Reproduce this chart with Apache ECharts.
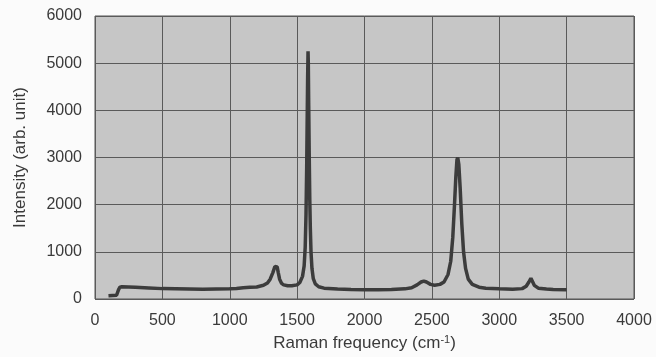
<!DOCTYPE html>
<html>
<head>
<meta charset="utf-8">
<script src="https://cdn.jsdelivr.net/npm/echarts@6/dist/echarts.min.js"></script>
<style>
html,body{margin:0;padding:0;background:#fbfbfb;}
#chart{width:656px;height:357px;}
</style>
</head>
<body>
<div id="chart"></div>
<script>
// Raman shift (cm-1) and intensity (arb. unit)
const ramanShift = [100,130,160,168,175,185,200,250,300,400,500,600,700,800,900,1000,1050,1100,1150,1200,1250,1280,1300,1320,1335,1345,1352,1360,1370,1385,1400,1430,1460,1500,1520,1540,1552,1560,1566,1571,1575,1578,1581,1583,1586,1590,1594,1598,1603,1610,1620,1635,1660,1700,1800,1900,2000,2100,2200,2300,2350,2390,2420,2440,2460,2490,2520,2560,2590,2620,2640,2655,2668,2678,2686,2692,2700,2710,2722,2735,2750,2770,2800,2850,2900,3000,3100,3170,3200,3220,3235,3245,3260,3290,3350,3400,3500];
const intensity  = [70,75,80,120,200,250,260,255,250,235,220,215,210,205,210,215,225,240,250,255,290,340,420,560,690,710,680,560,420,330,300,280,280,300,350,480,700,1100,1800,2800,3900,4700,5250,5000,4100,3000,2100,1500,1000,650,430,320,260,230,210,200,195,195,200,215,240,300,360,380,360,310,290,310,360,520,800,1300,2000,2600,2950,3000,2850,2350,1600,1000,650,420,310,250,230,215,205,220,270,360,440,400,290,230,210,200,195];
const xTicks = [0,500,1000,1500,2000,2500,3000,3500,4000];
const yTicks = [0,1000,2000,3000,4000,5000,6000];

const seriesData = ramanShift.map((x, i) => [x, intensity[i]]);
const chart = echarts.init(document.getElementById('chart'));
const labelFont = {fontFamily: '"Liberation Sans", Arial, sans-serif', fontSize: 16, color: '#3a3a3a'};
const plain = v => String(v);
chart.setOption({
  backgroundColor: '#fbfbfb',
  animation: false,
  grid: {left: 95, top: 16, right: 22, bottom: 58, show: true, backgroundColor: '#c6c6c6', borderColor: '#555', borderWidth: 1},
  xAxis: {
    type: 'value', min: xTicks[0], max: xTicks[xTicks.length - 1], interval: 500,
    axisLine: {show: false}, axisTick: {show: false},
    splitLine: {show: true, lineStyle: {color: '#5a5a5a', width: 1}},
    axisLabel: Object.assign({margin: 14, formatter: plain}, labelFont),
    name: '{a|Raman frequency (cm}{s|-1}{a|)}',
    nameLocation: 'middle', nameGap: 35,
    nameTextStyle: {rich: {
      a: {fontFamily: labelFont.fontFamily, fontSize: 17, color: '#3a3a3a'},
      s: {fontFamily: labelFont.fontFamily, fontSize: 11, color: '#3a3a3a', verticalAlign: 'top', padding: [0,0,8,0]}
    }}
  },
  yAxis: {
    type: 'value', min: yTicks[0], max: yTicks[yTicks.length - 1], interval: 1000,
    axisLine: {show: false}, axisTick: {show: false},
    splitLine: {show: true, lineStyle: {color: '#5a5a5a', width: 1}},
    axisLabel: Object.assign({margin: 13, formatter: plain}, labelFont),
    name: 'Intensity (arb. unit)', nameLocation: 'middle', nameGap: 66,
    nameTextStyle: {fontFamily: labelFont.fontFamily, fontSize: 17, color: '#3a3a3a'}
  },
  series: [{
    type: 'line', data: seriesData, showSymbol: false,
    lineStyle: {color: '#3c3c3c', width: 3.5}
  }]
});
</script>
</body>
</html>
